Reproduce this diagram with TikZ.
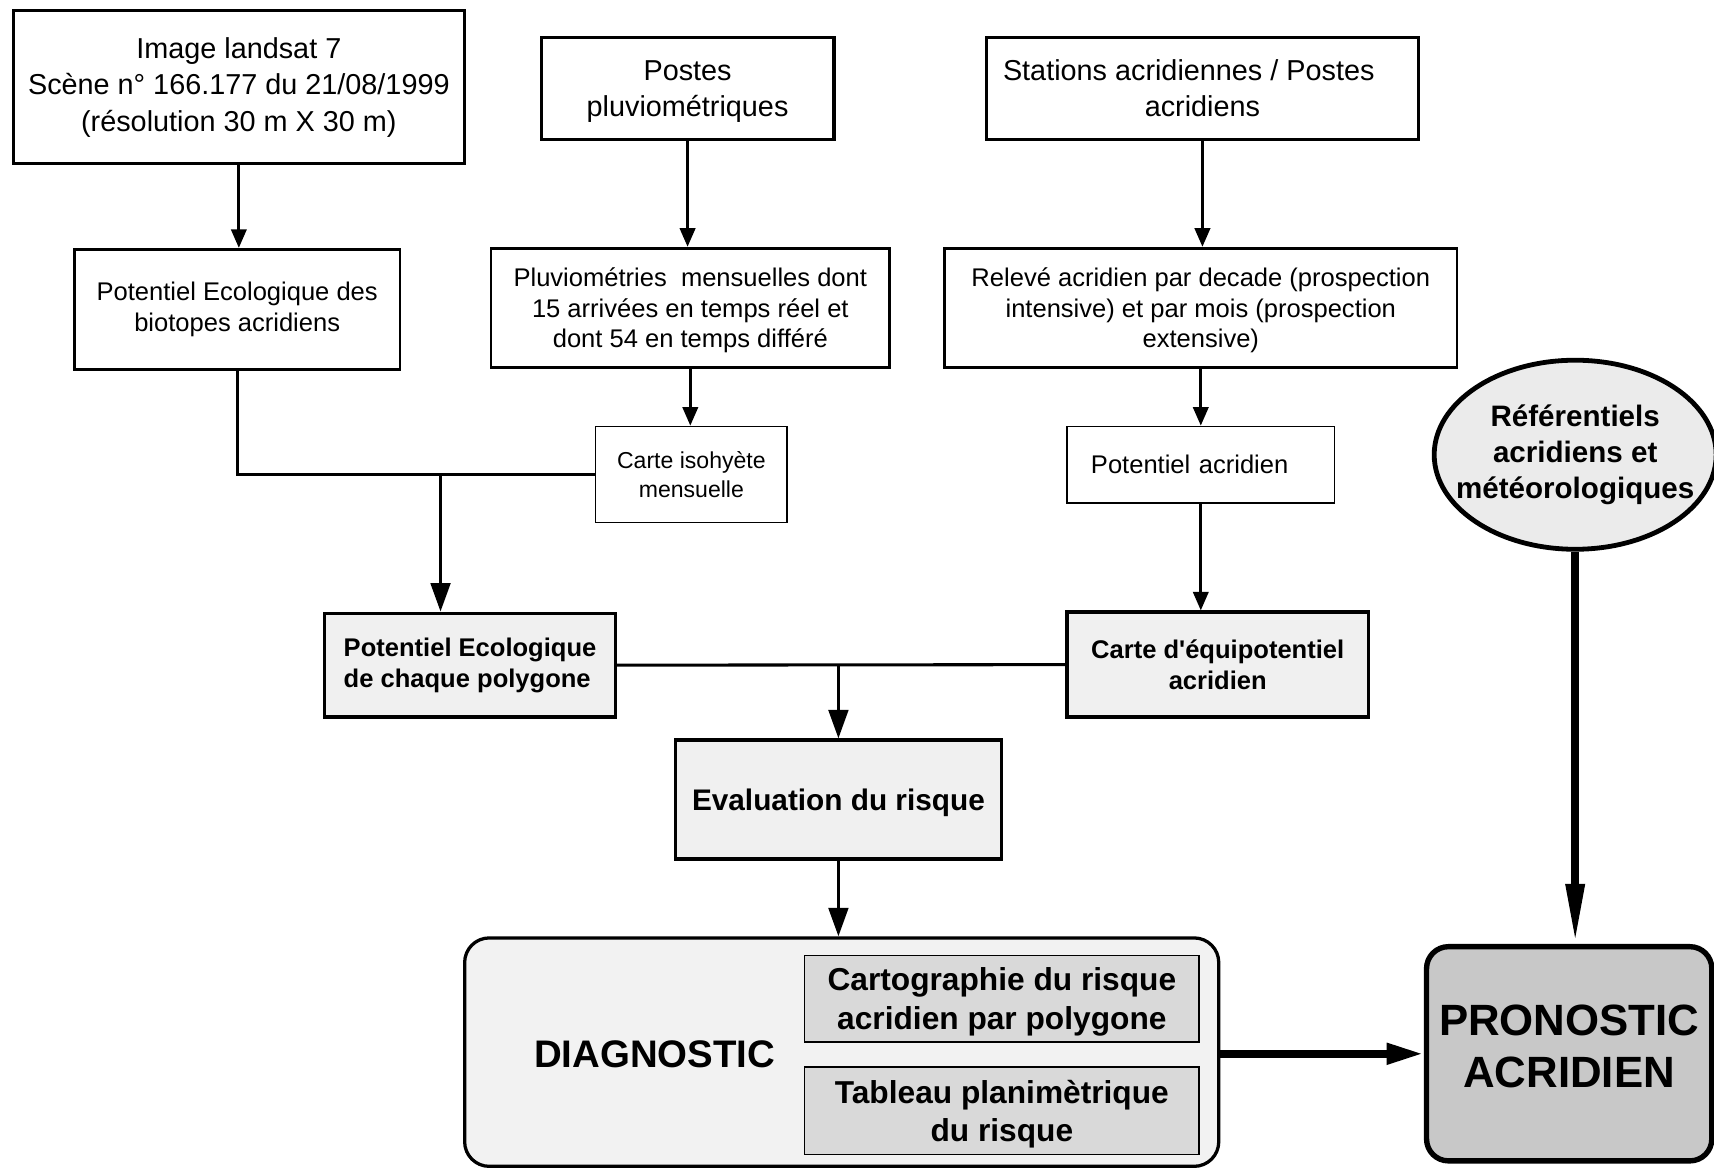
\documentclass[tikz,border=0pt]{standalone}
\usepackage{fontspec}
\setmainfont{Liberation Sans}
\usetikzlibrary{shapes,arrows.meta,positioning,calc}
\pgfdeclarelayer{background}
\pgfsetlayers{background,main}
\definecolor{resultcol}{HTML}{F0F0F0}
\definecolor{diagcol}{HTML}{F2F2F2}
\definecolor{subcol}{HTML}{D9D9D9}
\definecolor{refcol}{HTML}{EBEBEB}
\definecolor{pronocol}{HTML}{C8C8C8}
\tikzstyle{link} = [-{Triangle[length=3.4mm,width=2.8mm]}, line width=1.5pt]
\tikzstyle{big link} = [-{Triangle[length=5.2mm,width=3.6mm]}, line width=1.5pt]
\tikzstyle{junction line} = [line width=1.6pt]
\tikzstyle{fat link} = [-{Triangle[length=6.8mm,width=3.6mm]}, line width=4.2pt]
\tikzstyle{fat long link} = [-{Triangle[length=11mm,width=3.2mm]}, line width=4.2pt]
\tikzset{
  basic box/.style = {
    shape = rectangle,
    draw,
    align = center,
    inner sep = 0pt,
    },
  box size/.style 2 args = {
    minimum width = #1,
    minimum height = #2,
    },
  flat/.style = {text depth = 0pt},
  source box/.style = {
    basic box,
    line width = 1.6pt,
    font = \fontsize{15}{18.8}\selectfont,
    },
  data box/.style = {
    basic box,
    line width = 1.4pt,
    font = \fontsize{13.3}{15.8}\selectfont,
    },
  map box/.style = {
    basic box,
    line width = 0.7pt,
    font = \fontsize{12}{15.4}\selectfont,
    },
  result box/.style = {
    basic box,
    line width = 1.8pt,
    fill = resultcol,
    font = \bfseries\fontsize{13.3}{16}\selectfont,
    },
  diag box/.style = {
    basic box,
    rounded corners = 0.45cm,
    line width = 1.7pt,
    fill = diagcol,
    },
  sub box/.style = {
    basic box,
    flat,
    line width = 0.8pt,
    fill = subcol,
    font = \bfseries\fontsize{16.5}{19.9}\selectfont,
    },
  ref ellipse/.style = {
    shape = ellipse,
    draw,
    align = center,
    inner xsep = -0.4cm,
    inner ysep = 0pt,
    line width = 2.5pt,
    fill = refcol,
    minimum width = 5.16cm,
    minimum height = 3.46cm,
    font = \bfseries\fontsize{15.4}{18.8}\selectfont,
    },
  prono box/.style = {
    basic box,
    rounded corners = 0.4cm,
    line width = 2.8pt,
    fill = pronocol,
    text depth = 0.28cm,
    font = \bfseries\fontsize{22.8}{27.3}\selectfont,
    },
}
\begin{document}
\begin{tikzpicture}[x=0.02cm, y=-0.02cm]
    \useasboundingbox (0,0) rectangle (1568,1069);

    % sources
    \node[source box, box size={8.26cm}{2.8cm}] (image) at (218.5,80)
        {Image landsat 7\\Scène n° 166.177 du 21/08/1999\\(résolution 30 m X 30 m)};
    \node[source box, flat, box size={5.36cm}{1.88cm}] (postes) at (629,81)
        {Postes\\pluviométriques};
    \node[source box, box size={7.92cm}{1.88cm}] (stations) at (1100,81)
        {Stations acridiennes / Postes\hspace*{0.5cm}\\acridiens};

    % data
    \node[data box, box size={5.96cm}{2.2cm}] (ecopot) at (217,283)
        {Potentiel Ecologique des\\biotopes acridiens};
    \node[data box, flat, box size={7.3cm}{2.18cm}] (pluvio) at (631.5,281.5)
        {Pluviométries\ \ mensuelles dont\\15 arrivées en temps réel et\\dont 54 en temps différé};
    \node[data box, flat, box size={9.38cm}{2.18cm}] (releve) at (1098.5,281.5)
        {Relevé acridien par decade (prospection\\intensive) et par mois (prospection\\extensive)};

    \node[map box, box size={3.5cm}{1.76cm}] (isohyete) at (632.5,434)
        {Carte isohyète\\mensuelle};
    \node[map box, font=\fontsize{13.3}{16}\selectfont, box size={4.9cm}{1.4cm},
        inner xsep=0.44cm, text width=4.02cm, align=left] (acrpot) at (1098.5,425)
        {Potentiel acridien};

    % results
    \node[result box, box size={5.32cm}{1.9cm}, align=left] (ecopoly) at (430,608.5)
        {Potentiel Ecologique\\de chaque polygone};
    \node[result box, flat, box size={5.52cm}{1.92cm}] (equipot) at (1114,608)
        {Carte d\textquotesingle équipotentiel\\acridien};
    \node[result box, flat, font=\bfseries\fontsize{15.5}{18}\selectfont, box size={5.96cm}{2.18cm}] (risk) at (767,731.5)
        {Evaluation du risque};

    % diagnostic
    \begin{pgfonlayer}{background}
        \node[diag box, box size={13.8cm}{4.18cm}] (diag) at (770,962.5) {};
    \end{pgfonlayer}
    \node[font=\bfseries\fontsize{20}{24}\selectfont] (diaglabel) at (599,964) {DIAGNOSTIC};
    \node[sub box, box size={7.22cm}{1.58cm}] (carto) at (916.5,913.5)
        {Cartographie du risque\\acridien par polygone};
    \node[sub box, box size={7.22cm}{1.6cm}] (tableau) at (916.5,1016)
        {Tableau planimètrique\\du risque};

    % pronostic
    \node[ref ellipse] (referentiels) at (1441,416)
        {Référentiels\\acridiens et\\météorologiques};
    \node[prono box, box size={5.22cm}{3.92cm}] (prono) at (1435.5,964)
        {PRONOSTIC\\ACRIDIEN};

    % Paths
    \draw[link] (image.south) -- (image.south |- ecopot.north);
    \draw[link] (postes.south) -- (postes.south |- pluvio.north);
    \draw[link] (stations.south) -- (stations.south |- releve.north);
    \draw[link] (pluvio.south) -- (pluvio.south |- isohyete.north);
    \draw[link] (releve.south) -- (releve.south |- acrpot.north);

    \draw[junction line] (ecopot.south) |- (isohyete.west);
    \coordinate (ecojoin) at (403,434);
    \draw[big link] (ecojoin) -- (ecojoin |- ecopoly.north);
    \draw[link] (acrpot.south) -- (acrpot.south |- equipot.north);

    \draw[junction line] (ecopoly.east) -- (equipot.west);
    \draw[big link] (risk.north |- ecopoly.east) -- (risk.north);
    \draw[big link] (risk.south) -- (risk.south |- diag.north);

    \draw[fat long link] (referentiels.south) -- (referentiels.south |- prono.north);
    \draw[fat link] (diag.east |- prono.west) -- (prono.west);
\end{tikzpicture}
\end{document}
